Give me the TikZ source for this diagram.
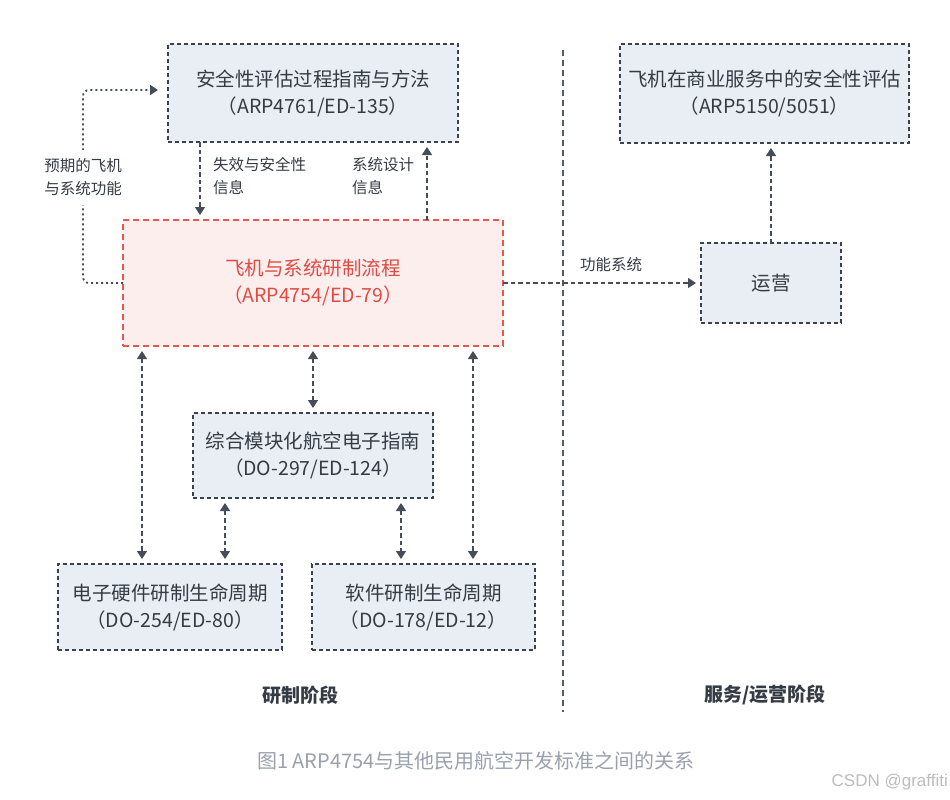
\documentclass[tikz,border=0pt]{standalone}
\usepackage{fontspec}
\setmainfont{Noto Sans CJK SC}
\newfontfamily\csdnfont{Liberation Sans}
\usetikzlibrary{arrows.meta}
\definecolor{boxfill}{HTML}{E9EEF4}
\definecolor{boxline}{HTML}{3B424D}
\definecolor{redfill}{HTML}{FDEEEE}
\definecolor{redline}{HTML}{E8574F}
\definecolor{redtext}{HTML}{E04B43}
\definecolor{txt}{HTML}{353B45}
\definecolor{connc}{HTML}{474D58}
\definecolor{captxt}{HTML}{9AA1AD}
\definecolor{marktxt}{HTML}{BDBDBD}
\definecolor{divc}{HTML}{555B66}
\begin{document}
\begin{tikzpicture}[x=1pt,y=-1pt,
  bigfont/.style={font=\fontsize{19.5}{27}\selectfont},
  smallfont/.style={font=\fontsize{15.5}{23}\selectfont},
  stdbox/.style={draw=boxline, fill=boxfill, line width=1.6pt, dash pattern=on 4pt off 3pt, text=txt, align=center, inner sep=0pt, outer sep=0pt, bigfont},
  redbox/.style={draw=redline, fill=redfill, line width=1.6pt, dash pattern=on 6pt off 4pt, text=redtext, align=center, inner sep=0pt, outer sep=0pt, bigfont},
  connline/.style={draw=connc, line width=1.5pt, dash pattern=on 4.5pt off 3pt},
  dotline/.style={draw=connc, line width=1.8pt, dash pattern=on 2pt off 3pt, rounded corners=6pt},
  onetip/.style={-{Triangle[width=10pt,length=8pt]}, shorten >=5pt},
  twotips/.style={{Triangle[width=10pt,length=8pt]}-{Triangle[width=10pt,length=8pt]}, shorten >=5pt, shorten <=5pt},
  lbl/.style={text=txt, smallfont, inner sep=0pt, align=left},
  phase/.style={text=txt, font=\fontsize{19}{23}\selectfont\bfseries, inner sep=0pt}
]
\path[fill=white] (0,0) rectangle (950,800);
\useasboundingbox (0,0) rectangle (950,800);

% nodes
\node[stdbox, minimum width=290pt, minimum height=98pt] (tl) at (313,93) {安全性评估过程指南与方法\\（ARP4761/ED-135）};
\node[stdbox, minimum width=289pt, minimum height=99pt] (tr) at (764.5,93.5) {飞机在商业服务中的安全性评估\\（ARP5150/5051）};
\node[redbox, minimum width=380pt, minimum height=126pt] (red) at (313,283) {飞机与系统研制流程\\（ARP4754/ED-79）};
\node[stdbox, minimum width=140pt, minimum height=80pt] (ops) at (771,283) {运营};
\node[stdbox, minimum width=240pt, minimum height=85pt] (mid) at (313,455.5) {综合模块化航空电子指南\\（DO-297/ED-124）};
\node[stdbox, minimum width=224pt, minimum height=86pt] (bl) at (170,607) {电子硬件研制生命周期\\（DO-254/ED-80）};
\node[stdbox, minimum width=223pt, minimum height=86pt] (br) at (423.5,607) {软件研制生命周期\\（DO-178/ED-12）};

% divider
\coordinate (dtop) at (563,50);
\coordinate (dbot) at (563,712);
\draw[divc, line width=1.3pt, dash pattern=on 6pt off 4pt] (dtop) -- (dbot);

% helper x positions
\coordinate (xa) at (200,0);
\coordinate (xb) at (427,0);
\coordinate (xc) at (142,0);
\coordinate (xd) at (473,0);
\coordinate (xe) at (225,0);
\coordinate (xf) at (401,0);

% loop (expected functions)
\draw[dotline, -{Triangle[width=10pt,length=8pt]}, shorten >=10pt] (red.west) -- ++(-40,0) |- ([yshift=3pt]tl.west);
\node[lbl, fill=white, minimum height=55pt, minimum width=82pt] (exp) at (83,177) {预期的飞机\\与系统功能};

% top connectors
\draw[connline, onetip] (tl.south -| xa) -- (red.north -| xa);
\draw[connline, onetip] (red.north -| xb) -- (tl.south -| xb);
\node[lbl, anchor=west] (fail) at (213,176.5) {失效与安全性\\信息};
\node[lbl, anchor=west] (sysd) at (352,176.5) {系统设计\\信息};

% to operations
\draw[connline, onetip] (red.east) -- (ops.west);
\node[lbl] (func) at (611,265) {功能系统};
\draw[connline, onetip] (ops.north) -- (tr.south -| ops.north);

% bottom connectors
\draw[connline, twotips] (red.south -| xc) -- (bl.north -| xc);
\draw[connline, twotips] (red.south) -- (mid.north);
\draw[connline, twotips] (red.south -| xd) -- (br.north -| xd);
\draw[connline, twotips] (mid.south -| xe) -- (bl.north -| xe);
\draw[connline, twotips] (mid.south -| xf) -- (br.north -| xf);

% phase labels
\node[phase] (p1) at (300,695) {研制阶段};
\node[phase] (p2) at (765,695) {服务/运营阶段};

% caption
\node[text=captxt, font=\fontsize{20}{24}\selectfont, inner sep=0pt] (cap) at (476,761) {图1 ARP4754与其他民用航空开发标准之间的关系};
\node[text=marktxt, font=\csdnfont\fontsize{17}{20}\selectfont, inner sep=0pt, anchor=east] (mark) at (948,782) {CSDN @graffiti};
\end{tikzpicture}
\end{document}
